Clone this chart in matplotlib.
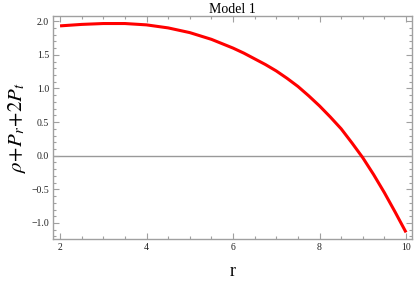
import matplotlib
matplotlib.use("Agg")
import matplotlib.pyplot as plt
from matplotlib.ticker import MultipleLocator

plt.rcParams['font.family'] = ['Liberation Serif', 'DejaVu Serif']
plt.rcParams['mathtext.fontset'] = 'stix'

r_vals = [2.0, 2.5, 3.0, 3.5, 4.0, 4.5, 5.0, 5.5, 6.0, 6.25, 6.5, 6.75, 7.0, 7.25, 7.5, 7.75,
          8.0, 8.25, 8.5, 8.75, 9.0, 9.25, 9.5, 9.75, 10.0]
energy_vals = [1.93, 1.952, 1.965, 1.965, 1.945, 1.90, 1.83, 1.73, 1.60, 1.525, 1.44, 1.355, 1.26, 1.15,
               1.03, 0.89, 0.74, 0.575, 0.40, 0.19, -0.03, -0.28, -0.55, -0.84, -1.14]
title = "Model 1"
xticks = [2, 4, 6, 8, 10]
yticks = [-1.0, -0.5, 0.0, 0.5, 1.0, 1.5, 2.0]

fig = plt.figure(figsize=(4.15, 2.83), dpi=100)
ax = fig.add_axes([0.128, 0.155, 0.865, 0.788])

ax.axhline(0, color='#999999', lw=1.0, zorder=1)
ax.plot(r_vals, energy_vals, color='#ff0000', lw=2.2, zorder=3, solid_capstyle='butt',
        solid_joinstyle='round')

ax.set_xlim(1.84, 10.14)
ax.set_ylim(-1.24, 2.075)
ax.set_xticks(xticks)
ax.set_yticks(yticks)
ax.set_xticklabels([str(t) for t in xticks])
ax.set_yticklabels([f"{t:.1f}".replace('-', '\u2212') for t in yticks])
ax.xaxis.set_minor_locator(MultipleLocator(0.5))
ax.yaxis.set_minor_locator(MultipleLocator(0.1))

for s in ax.spines.values():
    s.set_color('#a0a0a0')
    s.set_linewidth(1.0)
ax.tick_params(which='both', direction='in', top=True, right=True, color='#a0a0a0', width=0.8,
               labelsize=7, labelcolor='#222222', pad=3)
ax.tick_params(which='major', length=4)
ax.tick_params(which='minor', length=2)

ax.set_title(title, fontsize=10, pad=2)
ax.set_xlabel('r', fontsize=13, labelpad=8)
ax.set_ylabel(r'$\rho\!+\!P_r\!+\!2P_t$', fontsize=15, labelpad=2)

fig.savefig('out.png', dpi=100)
